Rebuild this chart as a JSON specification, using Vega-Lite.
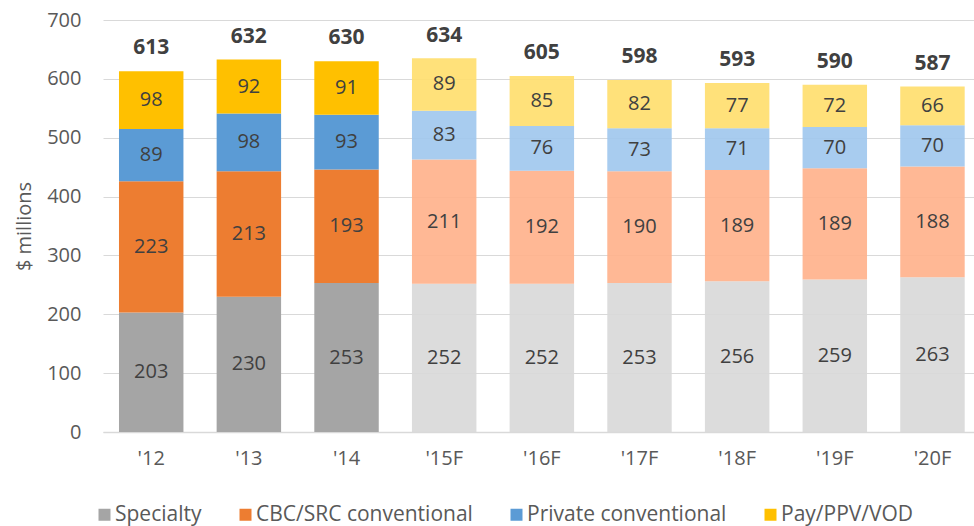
{
  "$schema": "https://vega.github.io/schema/vega-lite/v6.json",
  "width": 871,
  "height": 412,
  "autosize": {"type": "none"},
  "padding": {"left": 103, "top": 20, "right": 0, "bottom": 94},
  "config": {
    "font": "Open Sans",
    "view": {"stroke": null},
    "text": {"font": "Open Sans"}
  },
  "datasets": {
    "seg": [
      {"yr": "'12", "seg": "Specialty", "grp": "Specialty", "k": 1, "v": 203, "fc": "A"},
      {"yr": "'12", "seg": "CBC/SRC conventional", "grp": "CBC/SRC conventional", "k": 2, "v": 223, "fc": "A"},
      {"yr": "'12", "seg": "Private conventional", "grp": "Private conventional", "k": 3, "v": 89, "fc": "A"},
      {"yr": "'12", "seg": "Pay/PPV/VOD", "grp": "Pay/PPV/VOD", "k": 4, "v": 98, "fc": "A"},
      {"yr": "'13", "seg": "Specialty", "grp": "Specialty", "k": 1, "v": 230, "fc": "A"},
      {"yr": "'13", "seg": "CBC/SRC conventional", "grp": "CBC/SRC conventional", "k": 2, "v": 213, "fc": "A"},
      {"yr": "'13", "seg": "Private conventional", "grp": "Private conventional", "k": 3, "v": 98, "fc": "A"},
      {"yr": "'13", "seg": "Pay/PPV/VOD", "grp": "Pay/PPV/VOD", "k": 4, "v": 92, "fc": "A"},
      {"yr": "'14", "seg": "Specialty", "grp": "Specialty", "k": 1, "v": 253, "fc": "A"},
      {"yr": "'14", "seg": "CBC/SRC conventional", "grp": "CBC/SRC conventional", "k": 2, "v": 193, "fc": "A"},
      {"yr": "'14", "seg": "Private conventional", "grp": "Private conventional", "k": 3, "v": 93, "fc": "A"},
      {"yr": "'14", "seg": "Pay/PPV/VOD", "grp": "Pay/PPV/VOD", "k": 4, "v": 91, "fc": "A"},
      {"yr": "'15F", "seg": "Specialty", "grp": "Specialty forecast", "k": 1, "v": 252, "fc": "F"},
      {"yr": "'15F", "seg": "CBC/SRC conventional", "grp": "CBC/SRC conventional forecast", "k": 2, "v": 211, "fc": "F"},
      {"yr": "'15F", "seg": "Private conventional", "grp": "Private conventional forecast", "k": 3, "v": 83, "fc": "F"},
      {"yr": "'15F", "seg": "Pay/PPV/VOD", "grp": "Pay/PPV/VOD forecast", "k": 4, "v": 89, "fc": "F"},
      {"yr": "'16F", "seg": "Specialty", "grp": "Specialty forecast", "k": 1, "v": 252, "fc": "F"},
      {"yr": "'16F", "seg": "CBC/SRC conventional", "grp": "CBC/SRC conventional forecast", "k": 2, "v": 192, "fc": "F"},
      {"yr": "'16F", "seg": "Private conventional", "grp": "Private conventional forecast", "k": 3, "v": 76, "fc": "F"},
      {"yr": "'16F", "seg": "Pay/PPV/VOD", "grp": "Pay/PPV/VOD forecast", "k": 4, "v": 85, "fc": "F"},
      {"yr": "'17F", "seg": "Specialty", "grp": "Specialty forecast", "k": 1, "v": 253, "fc": "F"},
      {"yr": "'17F", "seg": "CBC/SRC conventional", "grp": "CBC/SRC conventional forecast", "k": 2, "v": 190, "fc": "F"},
      {"yr": "'17F", "seg": "Private conventional", "grp": "Private conventional forecast", "k": 3, "v": 73, "fc": "F"},
      {"yr": "'17F", "seg": "Pay/PPV/VOD", "grp": "Pay/PPV/VOD forecast", "k": 4, "v": 82, "fc": "F"},
      {"yr": "'18F", "seg": "Specialty", "grp": "Specialty forecast", "k": 1, "v": 256, "fc": "F"},
      {"yr": "'18F", "seg": "CBC/SRC conventional", "grp": "CBC/SRC conventional forecast", "k": 2, "v": 189, "fc": "F"},
      {"yr": "'18F", "seg": "Private conventional", "grp": "Private conventional forecast", "k": 3, "v": 71, "fc": "F"},
      {"yr": "'18F", "seg": "Pay/PPV/VOD", "grp": "Pay/PPV/VOD forecast", "k": 4, "v": 77, "fc": "F"},
      {"yr": "'19F", "seg": "Specialty", "grp": "Specialty forecast", "k": 1, "v": 259, "fc": "F"},
      {"yr": "'19F", "seg": "CBC/SRC conventional", "grp": "CBC/SRC conventional forecast", "k": 2, "v": 189, "fc": "F"},
      {"yr": "'19F", "seg": "Private conventional", "grp": "Private conventional forecast", "k": 3, "v": 70, "fc": "F"},
      {"yr": "'19F", "seg": "Pay/PPV/VOD", "grp": "Pay/PPV/VOD forecast", "k": 4, "v": 72, "fc": "F"},
      {"yr": "'20F", "seg": "Specialty", "grp": "Specialty forecast", "k": 1, "v": 263, "fc": "F"},
      {"yr": "'20F", "seg": "CBC/SRC conventional", "grp": "CBC/SRC conventional forecast", "k": 2, "v": 188, "fc": "F"},
      {"yr": "'20F", "seg": "Private conventional", "grp": "Private conventional forecast", "k": 3, "v": 70, "fc": "F"},
      {"yr": "'20F", "seg": "Pay/PPV/VOD", "grp": "Pay/PPV/VOD forecast", "k": 4, "v": 66, "fc": "F"}
    ],
    "tot": [
      {"yr": "'12", "t": 613},
      {"yr": "'13", "t": 632},
      {"yr": "'14", "t": 630},
      {"yr": "'15F", "t": 634},
      {"yr": "'16F", "t": 605},
      {"yr": "'17F", "t": 598},
      {"yr": "'18F", "t": 593},
      {"yr": "'19F", "t": 590},
      {"yr": "'20F", "t": 587}
    ]
  },
  "encoding": {
    "x": {
      "field": "yr",
      "type": "nominal",
      "sort": null,
      "scale": {"paddingInner": 0.34, "paddingOuter": 0.1295, "align": 0.632},
      "axis": {
        "title": null,
        "labelAngle": 0,
        "domain": true,
        "domainColor": "#D9D9D9",
        "domainWidth": 1.5,
        "ticks": false,
        "labelPadding": 16,
        "labelFontSize": 20,
        "labelColor": "#595959"
      }
    }
  },
  "layer": [
    {
      "data": {"name": "seg"},
      "mark": {"type": "bar"},
      "encoding": {
        "y": {
          "field": "v",
          "type": "quantitative",
          "stack": "zero",
          "scale": {"domain": [0, 700], "nice": false},
          "axis": {
            "values": [0, 100, 200, 300, 400, 500, 600, 700],
            "grid": true,
            "gridColor": "#D9D9D9",
            "gridWidth": 1.2,
            "domain": false,
            "ticks": false,
            "labelFontSize": 20,
            "labelColor": "#595959",
            "labelPadding": 22,
            "title": "$ millions",
            "titleFontSize": 20,
            "titleFontWeight": "normal",
            "titleColor": "#595959",
            "titlePadding": 12
          }
        },
        "color": {
          "field": "grp",
          "type": "nominal",
          "scale": {
            "domain": ["Specialty", "CBC/SRC conventional", "Private conventional", "Pay/PPV/VOD", "Specialty forecast", "CBC/SRC conventional forecast", "Private conventional forecast", "Pay/PPV/VOD forecast"],
            "range": ["#A5A5A5", "#ED7D31", "#5B9BD5", "#FFC000", "#D8D8D8", "#FFB08A", "#9FC6ED", "#FFDE6C"]
          },
          "legend": {
            "title": null,
            "values": ["Specialty", "CBC/SRC conventional", "Private conventional", "Pay/PPV/VOD"],
            "orient": "none",
            "direction": "horizontal",
            "legendX": -9,
            "legendY": 484,
            "symbolType": "square",
            "symbolSize": 144,
            "symbolStrokeWidth": 0,
            "symbolOpacity": 1,
            "labelFontSize": 21,
            "labelColor": "#595959",
            "labelLimit": 0,
            "columnPadding": 33,
            "labelOffset": 0
          }
        },
        "opacity": {
          "field": "fc",
          "type": "nominal",
          "scale": {"domain": ["A", "F"], "range": [1, 0.9]},
          "legend": null
        },
        "order": {"field": "k", "type": "quantitative"}
      }
    },
    {
      "data": {"name": "seg"},
      "mark": {"type": "text", "fontSize": 20, "color": "#404040", "baseline": "middle"},
      "encoding": {
        "y": {"field": "v", "type": "quantitative", "stack": "zero", "bandPosition": 0.5},
        "detail": {"field": "seg"},
        "order": {"field": "k", "type": "quantitative"},
        "text": {"field": "v", "type": "quantitative"}
      }
    },
    {
      "data": {"name": "tot"},
      "mark": {"type": "text", "fontSize": 21, "fontWeight": "bold", "color": "#404040", "baseline": "alphabetic", "dy": -17},
      "encoding": {
        "y": {"field": "t", "type": "quantitative"},
        "text": {"field": "t", "type": "quantitative"}
      }
    }
  ]
}
